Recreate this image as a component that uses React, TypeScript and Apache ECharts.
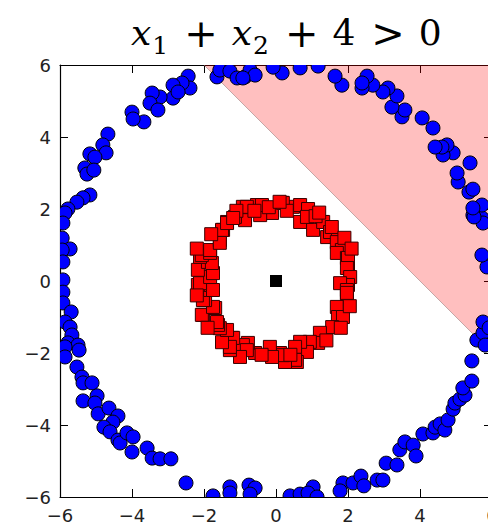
import { useEffect, useRef } from "react";
import * as echarts from "echarts";

// Axis range and tick step shared by both axes
const AXIS_MIN = -6;
const AXIS_MAX = 6;
const TICK_STEP = 2;

// Outer ring of samples (blue circles)
const outerRing: [number, number][] = [
  [-2.44, 5.69], [-2.39, 5.36], [-2.61, 5.5], [-2.86, 5.44], [-2.86, 5.08], [-2.72, 5.25],
  [-3.22, 5.11], [-3.44, 5.22], [-3.5, 4.94], [-3.28, 4.75], [-3.67, 4.42], [-4.0, 4.69],
  [-3.97, 4.5], [-4.67, 4.08], [-4.81, 3.78], [-4.72, 3.56], [-5.17, 3.53], [-5.03, 3.44],
  [-5.31, 3.14], [-5.25, 2.97], [-5.06, 3.08], [-5.17, 2.39], [-5.36, 2.31], [-5.53, 2.19],
  [-5.78, 2.0], [-5.86, 1.89], [-5.92, 1.61], [-5.94, 1.19], [-5.72, 0.89], [-5.94, 0.86],
  [-5.92, 0.53], [-5.92, 0.03], [-5.92, -0.31],
  [-5.92, -0.61], [-5.69, -0.86], [-5.86, -1.14], [-5.72, -1.28], [-5.67, -1.5], [-5.78, -1.72],
  [-5.5, -1.78], [-5.86, -1.83], [-5.47, -1.92], [-5.86, -2.11], [-5.53, -2.39], [-5.39, -2.67],
  [-5.36, -2.83], [-5.11, -2.83], [-4.97, -3.19], [-5.36, -3.33], [-5.03, -3.39], [-4.94, -3.69],
  [-4.64, -3.53], [-4.39, -3.75], [-4.53, -3.92], [-4.78, -4.06], [-4.61, -4.19], [-4.39, -4.42],
  [-4.33, -4.5], [-4.14, -4.22], [-3.97, -4.33], [-4.0, -4.75], [-3.58, -4.64], [-3.44, -4.92],
  [-3.22, -4.94], [-2.92, -4.94], [-2.5, -5.61],
  [-1.75, -5.97], [-1.28, -5.72], [-1.28, -5.89], [-0.75, -5.67], [-0.58, -5.75], [-0.72, -5.92],
  [0.39, -5.97], [0.67, -5.92], [1.03, -5.72], [0.89, -5.89], [1.14, -6.0], [1.86, -5.61],
  [1.78, -5.83], [2.14, -5.61], [2.36, -5.42], [2.44, -5.69], [2.81, -5.53], [2.97, -5.53],
  [3.06, -5.06], [3.36, -5.11], [3.44, -4.69], [3.58, -4.47], [3.81, -4.56], [3.89, -4.86],
  [4.08, -4.25], [4.36, -4.22], [4.42, -4.06], [4.56, -3.97], [4.69, -4.14], [4.78, -3.86],
  [4.92, -3.56], [4.97, -3.39], [5.11, -3.28], [5.25, -3.17], [5.19, -2.97], [5.44, -2.78],
  [5.44, -2.22], [5.58, -1.64], [5.75, -1.44], [5.81, -1.78], [5.75, -1.14], [5.92, -1.3],
  [5.86, 0.39], [5.72, 0.72], [5.72, 1.75], [5.75, 1.61], [5.47, 1.83], [5.5, 1.78],
  [5.72, 2.11], [5.47, 2.03], [5.36, 2.47], [5.47, 2.55], [5.06, 2.75], [5.03, 3.0],
  [5.39, 3.28], [4.92, 3.56], [4.64, 3.5], [4.75, 3.78], [4.61, 3.72], [4.42, 3.72],
  [4.36, 4.25], [4.06, 4.53], [3.5, 4.56], [3.58, 4.75], [3.22, 4.83], [3.36, 5.14],
  [3.11, 5.36], [2.97, 5.25], [2.69, 5.44], [2.53, 5.69], [2.39, 5.36], [2.39, 5.5],
  [1.83, 5.44], [1.64, 5.69], [1.17, 5.97], [0.67, 5.92], [0.17, 5.78], [-0.08, 5.94],
  [-1.64, 5.67], [-1.56, 5.86], [-1.28, 5.83], [-1.08, 5.64], [-0.86, 5.67], [-0.72, 5.86],
  [-0.58, 5.72], [-0.92, 5.64],
];

// Inner ring of samples (red squares)
const innerRing: [number, number][] = [
  [-0.92, 2.06], [-0.53, 2.11], [-0.36, 2.03], [0.17, 2.17], [0.47, 2.06], [0.67, 2.11],
  [0.89, 1.97], [-0.11, 1.89], [-0.44, 1.83], [-0.86, 1.69], [-1.36, 1.64], [-1.14, 1.78],
  [-0.81, 2.06], [-0.39, 2.11], [0.19, 2.17], [0.89, 2.0], [0.67, 1.64], [1.28, 1.64],
  [1.03, 1.42], [0.86, 1.78], [1.31, 1.64], [1.42, 1.22], [1.5, 1.36], [-0.2, 2.05],
  [0.3, 1.95], [1.1, 1.8], [1.55, 1.5], [-1.1, 1.95], [-0.6, 1.95], [0.1, 2.2], [1.2, 1.9],
  [1.72, 1.14], [1.83, 1.06], [1.69, 1.08], [1.83, 0.86], [1.69, 0.78], [1.97, 0.64],
  [2.0, 0.64], [2.0, 0.36], [1.97, 0.36], [2.06, 0.11], [2.0, -0.11], [1.78, -0.06],
  [1.97, -0.25], [1.97, -0.44], [1.97, -0.33], [1.69, -0.72], [1.72, -1.0], [1.86, -1.0],
  [1.56, -1.28], [1.22, -1.44], [1.17, -1.72], [0.94, -1.69], [1.9, 1.2], [2.1, 0.9],
  [2.05, -0.7], [1.8, -1.3], [1.4, -1.65],
  [0.86, -1.97], [0.67, -1.69], [0.53, -1.83], [0.58, -2.25], [0.53, -2.19], [0.25, -2.25],
  [0.11, -2.0], [0.19, -2.06], [-0.17, -1.83], [-0.11, -2.11], [-0.58, -2.0], [-0.78, -1.72],
  [-0.92, -1.78], [-0.81, -1.92], [-1.0, -2.11], [-1.28, -1.92], [-1.22, -1.58], [-1.19, -1.58],
  [-1.28, -1.83], [0.4, -2.05], [-0.4, -2.05], [-1.5, -1.7],
  [-1.36, -1.36], [-1.56, -1.31], [-1.61, -1.22], [-1.64, -1.14], [-2.03, -0.94], [-2.06, -0.94],
  [-1.69, -0.75], [-1.75, -0.72], [-1.97, -0.53], [-2.03, -0.53], [-1.83, -0.25], [-1.75, -0.25],
  [-2.11, -0.11], [-2.17, -0.11], [-2.11, -0.06], [-1.83, 0.11], [-1.75, 0.22], [-2.17, 0.31],
  [-1.89, 0.53], [-1.78, 0.5], [-2.11, 0.67], [-2.06, 0.72], [-1.83, 0.78], [-1.83, 0.86],
  [-1.56, 1.14], [-1.56, 1.06], [-1.47, 1.42], [-1.5, 1.42], [-1.36, 1.61], [-1.19, 1.75],
  [-1.9, -1.3], [-2.2, -0.4], [-2.2, 0.9], [-1.8, 1.3],
];

// The single query point at the origin
const queryPoint: [number, number][] = [[0, 0]];

// Decision boundary x1 + x2 = 4, drawn between the axis limits
const boundary: [number, number][] = [[-2, 6], [6, -2]];

const minusSign = (v: number) => String(v).replace("-", "\u2212");

const labelStyle = {
  fontFamily: "DejaVu Sans",
  fontSize: 18,
  color: "#222",
};

const mathFont = "DejaVu Serif";
const mathSize = 36;
const CIRCLE_RADIUS = 7;

export default function App() {
  const ref = useRef<HTMLDivElement>(null);

  useEffect(() => {
    const chart = echarts.init(ref.current!, null, { renderer: "svg" });
    const spine = { show: true, onZero: false, lineStyle: { color: "#000", width: 1.2 } };
    const tick = { show: true, inside: true, length: 8, lineStyle: { color: "#000", width: 1 } };
    const common = {
      type: "value" as const,
      min: AXIS_MIN,
      max: AXIS_MAX,
      interval: TICK_STEP,
      splitLine: { show: false },
      axisLine: spine,
      axisTick: tick,
    };
    const base = { fontFamily: mathFont, fontWeight: "normal", fontSize: mathSize, color: "#000" };
    chart.setOption({
      animation: false,
      backgroundColor: "#fff",
      title: {
        text: "{v|x}{s|1}{op|+}{v|x}{s|2}{op|+}{n|4}{op|>}{n|0}",
        left: 126,
        top: 2,
        textStyle: {
          fontWeight: "normal",
          rich: {
            v: { ...base, fontStyle: "italic" },
            s: { ...base, fontSize: 25, padding: [26, 0, 0, 1] },
            op: { ...base, fontSize: 40, padding: [0, 14, 0, 16] },
            n: { ...base },
          },
        },
      },
      grid: { left: 60, top: 65, right: -4, bottom: 30, outerBoundsMode: "none", containLabel: false },
      xAxis: [
        {
          ...common,
          position: "bottom",
          axisLabel: { ...labelStyle, margin: 9, formatter: minusSign },
        },
        { ...common, position: "top", axisLabel: { show: false } },
      ],
      yAxis: [
        {
          ...common,
          position: "left",
          axisLabel: { ...labelStyle, margin: 9, formatter: minusSign },
        },
        { ...common, position: "right", axisLabel: { show: false } },
      ],
      series: [
        {
          type: "line",
          data: boundary,
          symbol: "none",
          lineStyle: { width: 1, color: "rgba(160,130,130,0.6)" },
          areaStyle: { origin: "end", color: "rgba(255,0,0,0.25)", opacity: 1 },
          z: 1,
          silent: true,
        },
        {
          // custom series so circles near the frame are clipped to the plot area
          type: "custom",
          data: outerRing,
          encode: { x: 0, y: 1 },
          clip: true,
          z: 3,
          renderItem: (_params: any, api: any) => {
            const p = api.coord([api.value(0), api.value(1)]);
            return {
              type: "circle",
              shape: { cx: p[0], cy: p[1], r: CIRCLE_RADIUS },
              style: { fill: "#0000ff", stroke: "#000", lineWidth: 1 },
            };
          },
        },
        {
          type: "scatter",
          data: innerRing,
          symbol: "rect",
          symbolSize: 13,
          itemStyle: { color: "#ff0000", borderColor: "#3a0000", borderWidth: 1, opacity: 1 },
          z: 4,
        },
        {
          type: "scatter",
          data: queryPoint,
          symbol: "rect",
          symbolSize: 12,
          itemStyle: { color: "#000", opacity: 1 },
          z: 5,
        },
      ],
    });
    return () => chart.dispose();
  }, []);

  return (
    <div
      ref={ref}
      style={{ position: "fixed", left: 0, top: 0, width: 488, height: 527, background: "#fff" }}
    />
  );
}
